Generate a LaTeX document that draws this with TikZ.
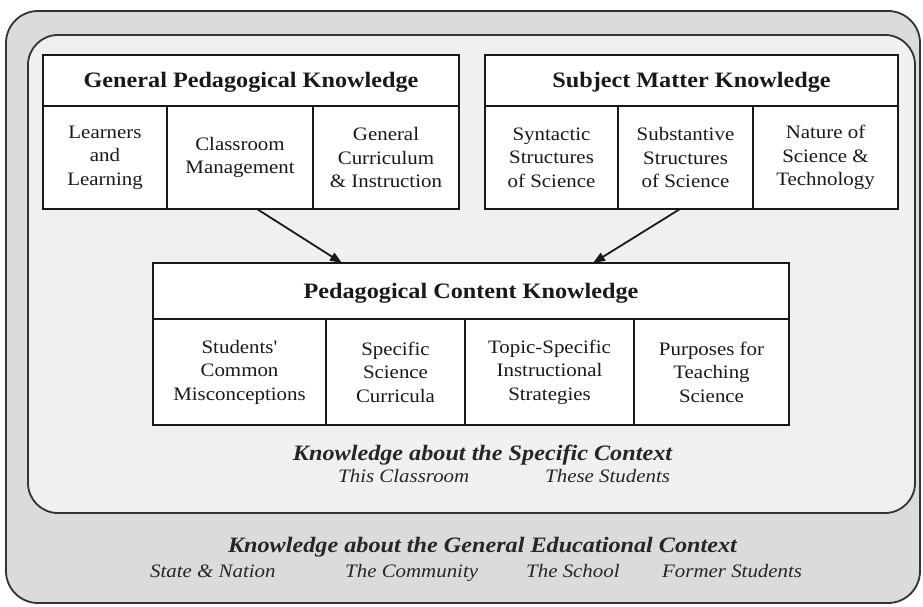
\documentclass[tikz,border=0pt]{standalone}
\usepackage{fontspec}
\setmainfont{Liberation Serif}[FakeStretch=1.1]
\usetikzlibrary{arrows.meta}
\newcommand\dgcell{\fontsize{19}{23.5}\selectfont}
\newcommand\dgtitle{\fontsize{22}{26}\selectfont\bfseries}
\newcommand\dgctx{\fontsize{22}{26}\selectfont\bfseries\itshape}
\newcommand\dgsub{\fontsize{19}{23}\selectfont\itshape}
\newcommand\dgapos{{\addfontfeature{Ligatures=TeXOff}'}}
\begin{document}
\begin{tikzpicture}[x=1pt,y=-1pt,
  box/.style={draw=black!90, line width=1.8pt, fill=white, inner sep=0pt, outer sep=0pt, align=center, font=\dgcell, text=black!90},
  titlebox/.style={box, font=\dgtitle, text height=15pt, text depth=0pt},
  ctx/.style={font=\dgctx, text=black!85, inner sep=0pt, anchor=base},
  sub/.style={font=\dgsub, text=black!85, inner sep=0pt, anchor=base west},
  arr/.style={draw=black!90, line width=1.8pt, -{Triangle[length=12pt,width=9pt]}},
  frame/.style={draw=black!80, line width=1.8pt}]
\useasboundingbox (0,0) rectangle (923,607);
\fill[white] (0,0) rectangle (923,607);
% outer and inner rounded frames
\path[frame, fill=black!14, rounded corners=32pt] (6,11) rectangle (920,603);
\path[frame, fill=black!6, rounded corners=30pt] (28,35) rectangle (915,513);
% General Pedagogical Knowledge
\node[titlebox, minimum width=416pt, minimum height=51pt] (gpk) at (251,80.5) {General Pedagogical Knowledge};
\node[box, minimum width=124pt, minimum height=103pt] (gpk1) at (105,157.5) {Learners\\and\\Learning};
\node[box, minimum width=146pt, minimum height=103pt] (gpk2) at (240,157.5) {Classroom\\Management};
\node[box, minimum width=146pt, minimum height=103pt] (gpk3) at (386,157.5) {General\\Curriculum\\\& Instruction};
% Subject Matter Knowledge
\node[titlebox, minimum width=413pt, minimum height=51pt] (smk) at (691.5,80.5) {Subject Matter Knowledge};
\node[box, minimum width=133pt, minimum height=103pt] (smk1) at (551.5,157.5) {Syntactic\\Structures\\of Science};
\node[box, minimum width=135pt, minimum height=103pt] (smk2) at (685.5,157.5) {Substantive\\Structures\\of Science};
\node[box, minimum width=145pt, minimum height=103pt] (smk3) at (825.5,157.5) {Nature of\\Science \&\\Technology};
% Pedagogical Content Knowledge
\node[titlebox, minimum width=636pt, minimum height=56pt] (pck) at (471,291) {Pedagogical Content Knowledge};
\node[box, minimum width=173pt, minimum height=106pt] (pck1) at (239.5,372) {Students\dgapos\\Common\\Misconceptions};
\node[box, minimum width=139pt, minimum height=106pt] (pck2) at (395.5,372) {Specific\\Science\\Curricula};
\node[box, minimum width=169pt, minimum height=106pt] (pck3) at (549.5,372) {Topic-Specific\\Instructional\\Strategies};
\node[box, minimum width=155pt, minimum height=106pt] (pck4) at (711.5,372) {Purposes for\\Teaching\\Science};
% arrows
\draw[arr] ([xshift=17pt]gpk2.south) -- ([xshift=-129pt]pck.north);
\draw[arr] ([xshift=-5.5pt]smk2.south) -- ([xshift=122pt]pck.north);
% specific context
\node[ctx] (spec) at (482.5,460) {Knowledge about the Specific Context};
\node[sub] (cls) at (338,482) {This Classroom};
\node[sub] (stu) at (545,482) {These Students};
% general educational context
\node[ctx] (gen) at (482.5,552) {Knowledge about the General Educational Context};
\node[sub] (nat) at (150,577) {State \& Nation};
\node[sub] (com) at (345,577) {The Community};
\node[sub] (sch) at (526,577) {The School};
\node[sub] (fst) at (662,577) {Former Students};
\end{tikzpicture}
\end{document}
